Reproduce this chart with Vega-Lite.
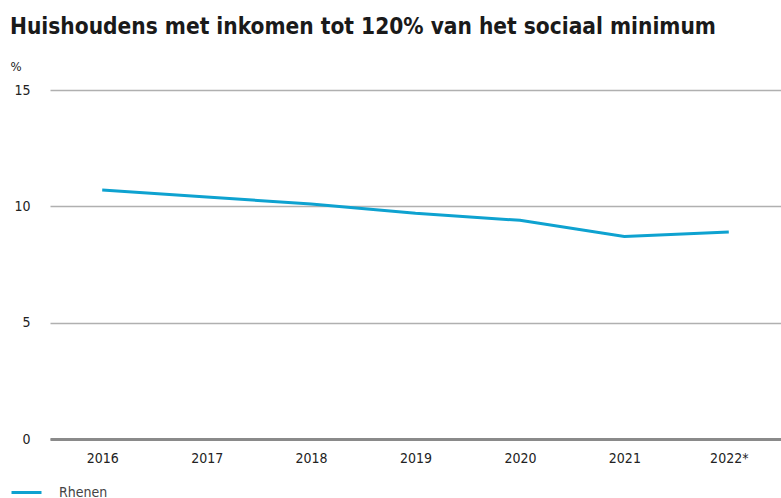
{
  "$schema": "https://vega.github.io/schema/vega-lite/v6.json",
  "width": 731,
  "height": 349,
  "autosize": {"type": "none"},
  "padding": {"left": 50, "top": 90, "right": 0, "bottom": 59},
  "background": "white",
  "title": {
    "text": "Huishoudens met inkomen tot 120% van het sociaal minimum",
    "anchor": "start",
    "frame": "group",
    "dx": -40,
    "offset": 22,
    "font": "DejaVu Sans Condensed, Roboto Condensed, Roboto, sans-serif",
    "fontSize": 22.5,
    "fontWeight": "bold",
    "color": "#1a1a1a"
  },
  "data": {
    "values": [
      {"jaar": "2016", "waarde": 10.7, "gemeente": "Rhenen"},
      {"jaar": "2017", "waarde": 10.4, "gemeente": "Rhenen"},
      {"jaar": "2018", "waarde": 10.1, "gemeente": "Rhenen"},
      {"jaar": "2019", "waarde": 9.7, "gemeente": "Rhenen"},
      {"jaar": "2020", "waarde": 9.4, "gemeente": "Rhenen"},
      {"jaar": "2021", "waarde": 8.7, "gemeente": "Rhenen"},
      {"jaar": "2022*", "waarde": 8.9, "gemeente": "Rhenen"}
    ]
  },
  "mark": {"type": "line", "strokeWidth": 3},
  "encoding": {
    "x": {
      "field": "jaar",
      "type": "ordinal",
      "scale": {"type": "point", "padding": 0.5},
      "axis": {
        "title": null,
        "labelAngle": 0,
        "ticks": false,
        "domain": true,
        "domainColor": "#8a8a8a",
        "domainWidth": 3,
        "grid": false,
        "labelPadding": 12,
        "labelFont": "DejaVu Sans Condensed, Roboto Condensed, Roboto, sans-serif",
        "labelFontSize": 14,
        "labelColor": "#222"
      }
    },
    "y": {
      "field": "waarde",
      "type": "quantitative",
      "scale": {"domain": [0, 15], "nice": false},
      "axis": {
        "values": [0, 5, 10, 15],
        "title": "%",
        "titleAngle": 0,
        "titleX": -40,
        "titleY": -24,
        "titleAlign": "left",
        "titleBaseline": "middle",
        "titleFont": "DejaVu Sans Condensed, Roboto Condensed, Roboto, sans-serif",
        "titleFontSize": 13,
        "titleFontWeight": "normal",
        "titleColor": "#222",
        "ticks": false,
        "domain": false,
        "gridColor": "#b0b0b0",
        "gridWidth": 1.5,
        "gridOpacity": 1,
        "labelPadding": 20,
        "labelFont": "DejaVu Sans Condensed, Roboto Condensed, Roboto, sans-serif",
        "labelFontSize": 14,
        "labelColor": "#222"
      }
    },
    "color": {
      "field": "gemeente",
      "type": "nominal",
      "scale": {"range": ["#0ea2d0"]},
      "legend": {
        "title": null,
        "orient": "none",
        "legendX": -40,
        "legendY": 386,
        "symbolType": "stroke",
        "symbolSize": 900,
        "symbolStrokeWidth": 3,
        "labelFont": "DejaVu Sans Condensed, Roboto Condensed, Roboto, sans-serif",
        "labelFontSize": 14,
        "labelColor": "#444",
        "labelOffset": 16
      }
    }
  },
  "config": {"view": {"stroke": null}}
}
